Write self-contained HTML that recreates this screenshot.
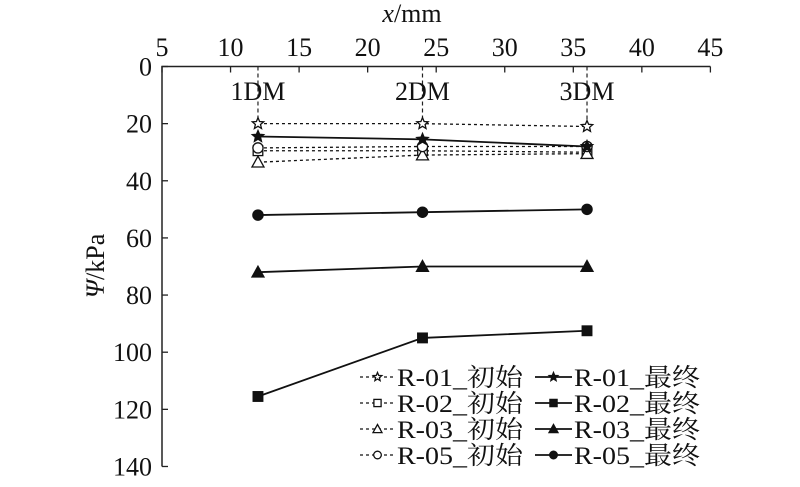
<!DOCTYPE html>
<html><head><meta charset="utf-8"><style>
body{margin:0;background:#fff}
svg text{font-family:"Liberation Serif","Noto Serif CJK SC",serif;fill:#111}
</style></head><body>
<svg width="800" height="482" xmlns="http://www.w3.org/2000/svg">
<g id="axes"></g><g id="plot"></g><g id="legend"></g>
</svg>
<script>
const xTicks=[5,10,15,20,25,30,35,40,45];
const yTicks=[0,20,40,60,80,100,120,140];
const positions=[12,24,36];
const posLabels=["1DM","2DM","3DM"];
const r01Init=[20,20,21];
const r01Final=[24.5,25.5,28];
const r02Init=[29.5,29.5,30];
const r02Final=[115.5,95,92.5];
const r03Init=[33.5,31,30.5];
const r03Final=[72,70,70];
const r05Init=[28.5,28,28];
const r05Final=[52,51,50];
const seriesNames=["R-01_初始","R-02_初始","R-03_初始","R-05_初始","R-01_最终","R-02_最终","R-03_最终","R-05_最终"];

const NS="http://www.w3.org/2000/svg";
const X=v=>162+(v-5)*13.71;
const Y=v=>66.5+v*2.857;
function mk(p,tag,a){const e=document.createElementNS(NS,tag);for(const k in a)e.setAttribute(k,a[k]);p.appendChild(e);return e;}
const axes=document.getElementById('axes'),plot=document.getElementById('plot'),leg=document.getElementById('legend');
let e;
e=mk(axes,'path',{d:`M${X(45)},${Y(0)} H${X(5)} V${Y(140)}`,fill:'none',stroke:'#222','stroke-width':1.5});

xTicks.forEach(t=>{mk(axes,'line',{x1:X(t),x2:X(t),y1:Y(0),y2:Y(0)+6,stroke:'#222','stroke-width':1.3});
 e=mk(axes,'text',{x:X(t),y:56,'text-anchor':'middle','font-size':26});e.textContent=t;
 });
yTicks.forEach(t=>{mk(axes,'line',{x1:X(5),x2:X(5)+6,y1:Y(t),y2:Y(t),stroke:'#222','stroke-width':1.3});
 e=mk(axes,'text',{x:152,y:Y(t)+9,'text-anchor':'end','font-size':26});e.textContent=t;
 });
e=mk(axes,'text',{x:412,y:22,'text-anchor':'middle','font-size':26});e.innerHTML='<tspan font-style="italic">x</tspan>/mm';

e=mk(axes,'text',{x:0,y:0,'text-anchor':'middle','font-size':26,transform:'translate(104,266) rotate(-90)'});e.innerHTML='<tspan font-style="italic">Ψ</tspan>/kPa';

positions.forEach((p,i)=>{mk(axes,'line',{x1:X(p),x2:X(p),y1:Y(0),y2:Y(r01Init[i]),stroke:'#222','stroke-width':1.2,'stroke-dasharray':'4,3'});
 e=mk(axes,'text',{x:X(p),y:100,'text-anchor':'middle','font-size':26});e.textContent=posLabels[i];
 });

function marker(g,type,fill,cx,cy,s){
 if(type==='star'){let pts=[];for(let k=0;k<10;k++){const r=k%2?s*0.45:s;const a=-Math.PI/2+k*Math.PI/5;pts.push((cx+r*Math.cos(a)).toFixed(1)+','+(cy+r*Math.sin(a)).toFixed(1));}
  return mk(g,'polygon',{points:pts.join(' '),fill:fill?'#111':'#fff',stroke:'#111','stroke-width':1.3});}
 if(type==='square')return mk(g,'rect',{x:cx-s*0.8,y:cy-s*0.8,width:s*1.6,height:s*1.6,fill:fill?'#111':'#fff',stroke:'#111','stroke-width':1.3});
 if(type==='tri')return mk(g,'polygon',{points:`${cx},${cy-s} ${cx-s},${cy+s*0.8} ${cx+s},${cy+s*0.8}`,fill:fill?'#111':'#fff',stroke:'#111','stroke-width':1.3});
 return mk(g,'circle',{cx,cy,r:s*0.85,fill:fill?'#111':'#fff',stroke:'#111','stroke-width':1.3});
}
const series=[[r01Init,'star',0],[r02Init,'square',0],[r03Init,'tri',0],[r05Init,'circle',0],[r01Final,'star',1],[r02Final,'square',1],[r03Final,'tri',1],[r05Final,'circle',1]];
series.forEach((s,si)=>{
 const g=mk(plot,'g',{});
 
 
 mk(g,'polyline',{points:positions.map((p,i)=>X(p)+','+Y(s[0][i])).join(' '),fill:'none',stroke:'#111','stroke-width':s[2]?1.8:1.3,'stroke-dasharray':s[2]?'none':'3,3'});
 positions.forEach((p,i)=>{const m=marker(g,s[1],s[2],X(p),Y(s[0][i]),6);
  
  });
});
const rows=[377,403,429,455];
series.forEach((s,si)=>{
 const col=si<4?0:1,row=si%4;const x0=col?535:360,x1=col?572:395,cy=rows[row];
 const g=mk(leg,'g',{});
 
 
 mk(g,'line',{x1:x0,x2:x1,y1:cy,y2:cy,stroke:'#111','stroke-width':s[2]?1.8:1.3,'stroke-dasharray':s[2]?'none':'3,3'});
 marker(g,s[1],s[2],(x0+x1)/2,cy,4.5);
 const t=mk(g,'text',{x:x1+2,y:cy+9,'font-size':25,textLength:126,lengthAdjust:'spacingAndGlyphs'});t.textContent=seriesNames[si];
});
</script>
</body></html>
